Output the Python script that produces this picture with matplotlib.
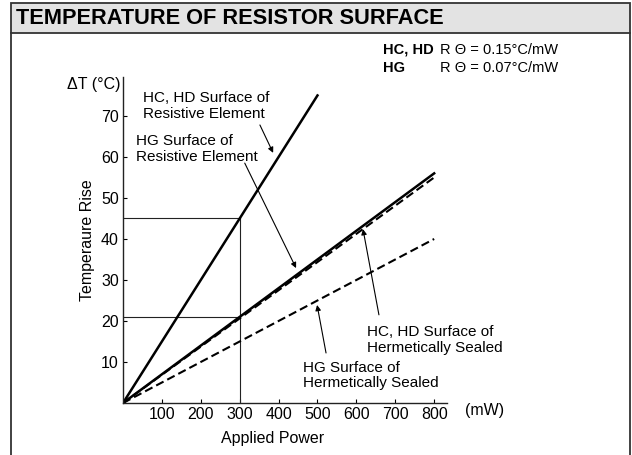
import matplotlib
matplotlib.use("Agg")
import matplotlib.pyplot as plt
from matplotlib.patches import Rectangle
from matplotlib.lines import Line2D

plt.rcParams['font.family'] = ['Liberation Sans', 'DejaVu Sans']

# applied power (mW) vs temperature rise (degC)
power_hc_elem = [0, 500]
rise_hc_elem = [0, 75]
power = [0, 800]
rise_hg_elem = [0, 56]
rise_hc_seal = [0, 55]
rise_hg_seal = [0, 40]

# read-off guide lines at 300 mW
ref_power = 300
ref_rise = [45, 21]

xticks = [100, 200, 300, 400, 500, 600, 700, 800]
yticks = [10, 20, 30, 40, 50, 60, 70]

fs = 11.5
fs_note = 11
fig = plt.figure(figsize=(6.32, 4.55), dpi=100)
W, H = 632.0, 455.0

# title bar and frame
fig.add_artist(Rectangle((11 / W, 1 - 33 / H), 619 / W, 30 / H, transform=fig.transFigure,
                         facecolor='#e3e3e3', edgecolor='#333333', linewidth=1.3))
fig.add_artist(Line2D([11 / W, 11 / W], [0, 1 - 33 / H], transform=fig.transFigure,
                      color='#333333', linewidth=1.3))
fig.add_artist(Line2D([630 / W, 630 / W], [0, 1 - 33 / H], transform=fig.transFigure,
                      color='#333333', linewidth=1.3))
fig.text(16 / W, 1 - 19 / H, 'TEMPERATURE OF RESISTOR SURFACE', fontsize=15.7,
         fontweight='heavy', va='center', ha='left')

fig.text(383 / W, 1 - 50 / H, 'HC, HD', fontsize=10.5, fontweight='bold', va='center')
fig.text(440 / W, 1 - 50 / H, 'R \u0398 = 0.15\u00b0C/mW', fontsize=10.5, va='center')
fig.text(383 / W, 1 - 68 / H, 'HG', fontsize=10.5, fontweight='bold', va='center')
fig.text(440 / W, 1 - 68 / H, 'R \u0398 = 0.07\u00b0C/mW', fontsize=10.5, va='center')

ax = fig.add_axes([123 / W, 52 / H, 324 / W, 326 / H])
ax.set_xlim(0, 833)
ax.set_ylim(0, 79.5)
for s in ['top', 'right']:
    ax.spines[s].set_visible(False)
for s in ['left', 'bottom']:
    ax.spines[s].set_color('#222222')
    ax.spines[s].set_linewidth(1.0)
ax.set_xticks(xticks)
ax.set_yticks(yticks)
ax.tick_params(direction='in', length=3, width=0.8, labelsize=fs, pad=3)

# guide lines
ax.plot([0, ref_power], [ref_rise[0]] * 2, color='#222222', lw=0.8)
ax.plot([0, ref_power], [ref_rise[1]] * 2, color='#222222', lw=0.8)
ax.plot([ref_power] * 2, [0, ref_rise[0]], color='#222222', lw=0.8)

ax.plot(power_hc_elem, rise_hc_elem, color='black', lw=1.8)
ax.plot(power, rise_hg_elem, color='black', lw=1.8)
ax.plot(power, rise_hc_seal, color='black', lw=1.5, linestyle=(0, (4, 2)))
ax.plot(power, rise_hg_seal, color='black', lw=1.5, linestyle=(0, (4, 2)))

arrow = dict(arrowstyle='-|>', color='black', lw=0.8, mutation_scale=8, shrinkA=0, shrinkB=0)
ax.annotate('', xy=(386, 61), xytext=(352, 67.8), arrowprops=arrow)
ax.text(51, 76.0, 'HC, HD Surface of\nResistive Element', fontsize=fs_note, va='top',
        linespacing=1.15)
ax.annotate('', xy=(445, 32.9), xytext=(313, 58.5), arrowprops=arrow)
ax.text(33, 65.6, 'HG Surface of\nResistive Element', fontsize=fs_note, va='top',
        linespacing=1.15)
ax.annotate('', xy=(617, 42.4), xytext=(658, 21.5), arrowprops=arrow)
ax.text(627, 19.0, 'HC, HD Surface of\nHermetically Sealed', fontsize=fs_note, va='top',
        linespacing=1.15)
ax.annotate('', xy=(499, 23.9), xytext=(522, 12.2), arrowprops=arrow)
ax.text(463, 10.3, 'HG Surface of\nHermetically Sealed', fontsize=fs_note, va='top',
        linespacing=1.15)

fig.text(120 / W, 1 - 85 / H, '\u0394T (\u00b0C)', fontsize=fs, ha='right', va='center')
fig.text(465 / W, 1 - 410 / H, '(mW)', fontsize=fs, ha='left', va='center')
fig.text(273 / W, 1 - 438 / H, 'Applied Power', fontsize=fs, ha='center', va='center')
fig.text(87 / W, 1 - 240 / H, 'Temperaure Rise', fontsize=fs, ha='center', va='center',
         rotation=90)

fig.savefig('out.png', dpi=100)
